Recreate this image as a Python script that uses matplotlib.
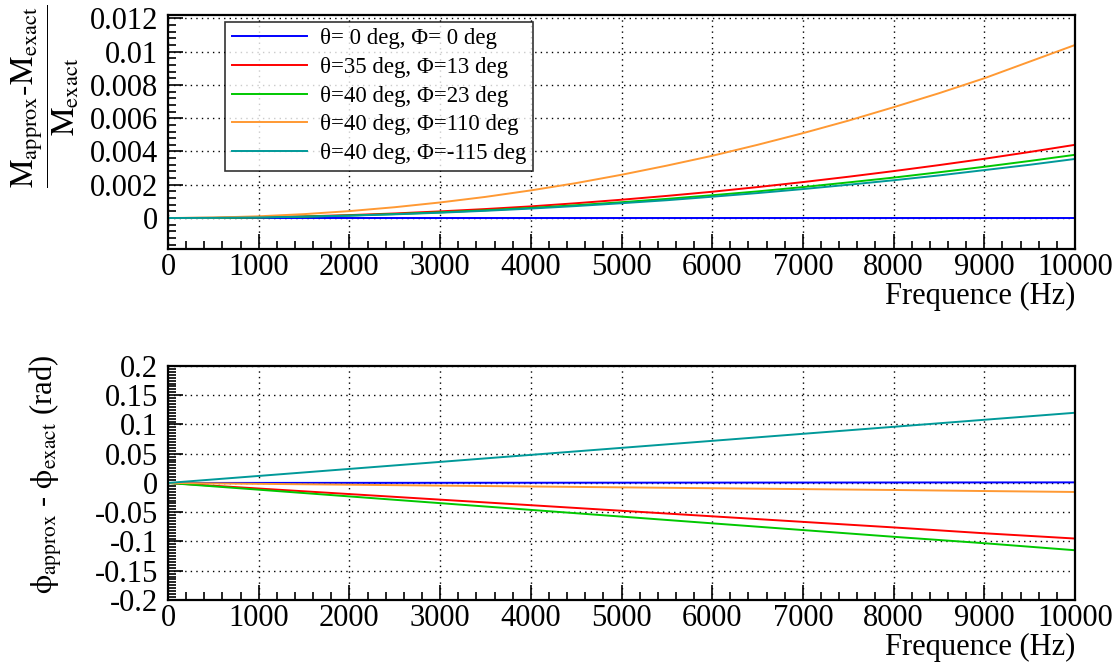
import matplotlib
matplotlib.use("Agg")
import matplotlib.pyplot as plt
from matplotlib.ticker import MultipleLocator, FixedLocator

plt.rcParams['font.family'] = ['Liberation Serif', 'DejaVu Serif']
plt.rcParams['mathtext.fontset'] = 'stix'

# ---------------- data ----------------
freq_top = [0, 500, 1000, 1500, 2000, 2500, 3000, 3500, 4000, 4500, 5000,
            5500, 6000, 6500, 7000, 7500, 8000, 8500, 9000, 9500, 10000]
mag_0_0 = [0.0] * 21
mag_35_13 = [0, 0.000011, 0.000044, 0.0001, 0.000176, 0.000275, 0.0004, 0.00054,
             0.0007, 0.00089, 0.0011, 0.00133, 0.00158, 0.00186, 0.00216, 0.00248,
             0.00282, 0.00318, 0.00356, 0.00397, 0.0044]
mag_40_23 = [0, 0.0000095, 0.000038, 0.000086, 0.000152, 0.000238, 0.000342, 0.000466,
             0.000608, 0.00077, 0.00095, 0.00115, 0.00137, 0.0016, 0.00186, 0.00214,
             0.00243, 0.00275, 0.00308, 0.00343, 0.0038]
mag_40_110 = [0, 0.000026, 0.000104, 0.000234, 0.000416, 0.00065, 0.000936, 0.00127,
              0.00166, 0.0021, 0.0026, 0.00315, 0.00374, 0.0044, 0.0051, 0.00585,
              0.00666, 0.0075, 0.0084, 0.0094, 0.0104]
mag_40_m115 = [0, 0.0000089, 0.0000355, 0.00008, 0.000142, 0.000222, 0.00032, 0.000435,
               0.000568, 0.00072, 0.00089, 0.00107, 0.00128, 0.0015, 0.00174, 0.002,
               0.00227, 0.00256, 0.00288, 0.0032, 0.00355]

freq_bot = [0, 1000, 2000, 3000, 4000, 5000, 6000, 7000, 8000, 9000, 10000]
ph_0_0 = [0, 0.0001, 0.0002, 0.0003, 0.0004, 0.0005, 0.0006, 0.0007, 0.0008, 0.0009, 0.001]
ph_35_13 = [0, -0.0095, -0.019, -0.0285, -0.038, -0.0475, -0.057, -0.0665, -0.076, -0.086, -0.095]
ph_40_23 = [0, -0.0115, -0.023, -0.0345, -0.046, -0.0575, -0.069, -0.0805, -0.092, -0.103, -0.115]
ph_40_110 = [0, -0.0015, -0.003, -0.0045, -0.006, -0.0075, -0.009, -0.0105, -0.012, -0.0138, -0.0154]
ph_40_m115 = [0, 0.012, 0.024, 0.036, 0.048, 0.06, 0.072, 0.084, 0.096, 0.108, 0.12]

labels = ["θ= 0 deg, Φ= 0 deg", "θ=35 deg, Φ=13 deg", "θ=40 deg, Φ=23 deg",
          "θ=40 deg, Φ=110 deg", "θ=40 deg, Φ=-115 deg"]
colors = ["#0000ff", "#ff0000", "#00c800", "#ff9933", "#009999"]

xticks = [0, 1000, 2000, 3000, 4000, 5000, 6000, 7000, 8000, 9000, 10000]
top_yticks = [0, 0.002, 0.004, 0.006, 0.008, 0.01, 0.012]
top_yticklabels = ["0", "0.002", "0.004", "0.006", "0.008", "0.01", "0.012"]
bot_yticks = [-0.2, -0.15, -0.1, -0.05, 0, 0.05, 0.1, 0.15, 0.2]
bot_yticklabels = ["-0.2", "-0.15", "-0.1", "-0.05", "0", "0.05", "0.1", "0.15", "0.2"]

# ---------------- figure ----------------
fig = plt.figure(figsize=(11.16, 6.62), dpi=100)
ax1 = fig.add_axes([0.1505, 0.6239, 0.8128, 0.3534])
ax2 = fig.add_axes([0.1505, 0.0937, 0.8128, 0.3535])

top_series = [mag_0_0, mag_35_13, mag_40_23, mag_40_110, mag_40_m115]
bot_series = [ph_0_0, ph_35_13, ph_40_23, ph_40_110, ph_40_m115]

for ys, c, lab in zip(top_series, colors, labels):
    ax1.plot(freq_top, ys, color=c, lw=1.4, label=lab)
for ys, c in zip(bot_series, colors):
    ax2.plot(freq_bot, ys, color=c, lw=1.4)

def style(ax, yticks, yticklabels, ylim, yminor):
    ax.set_xlim(0, 10000)
    ax.set_ylim(*ylim)
    ax.xaxis.set_major_locator(FixedLocator(xticks))
    ax.set_xticklabels([str(t) for t in xticks])
    ax.xaxis.set_minor_locator(MultipleLocator(200))
    ax.yaxis.set_major_locator(FixedLocator(yticks))
    ax.set_yticklabels(yticklabels)
    ax.yaxis.set_minor_locator(MultipleLocator(yminor))
    ax.tick_params(which='both', direction='in', labelsize=22, width=1.2,
                   top=False, right=False)
    ax.tick_params(axis='y', pad=7)
    ax.tick_params(axis='x', pad=3)
    ax.tick_params(which='major', length=11)
    ax.tick_params(which='minor', length=5.5)
    ax.grid(True, which='major', color='black', linestyle=(0, (1, 3)), lw=1.0)
    for s in ax.spines.values():
        s.set_linewidth(1.6)
    ax.set_xlabel("Frequence (Hz)", fontsize=22, loc='right', labelpad=0)

style(ax1, top_yticks, top_yticklabels, (-0.00186, 0.0122), 0.0004)
style(ax2, bot_yticks, bot_yticklabels, (-0.2, 0.2), 0.005)

fig.text(0.040, 1 - 96 / 662,
         r'$\dfrac{\mathrm{M_{approx}\text{-}M_{exact}}}{\mathrm{M_{exact}}}$',
         fontsize=23, rotation=90, ha='center', va='center')
fig.text(0.041, 1 - 474 / 662,
         r'$\mathrm{\phi_{approx}}$ - $\mathrm{\phi_{exact}}$ (rad)',
         fontsize=22, rotation=90, ha='center', va='center')

leg = ax1.legend(loc='upper left', bbox_to_anchor=(0.0628, 0.972), borderaxespad=0,
                 fontsize=16.5, frameon=True, fancybox=False, edgecolor='black',
                 handlelength=3.3, handletextpad=0.55, labelspacing=0.33,
                 borderpad=0.3)
leg.get_frame().set_linewidth(1.2)

fig.savefig("out.png", dpi=100)
